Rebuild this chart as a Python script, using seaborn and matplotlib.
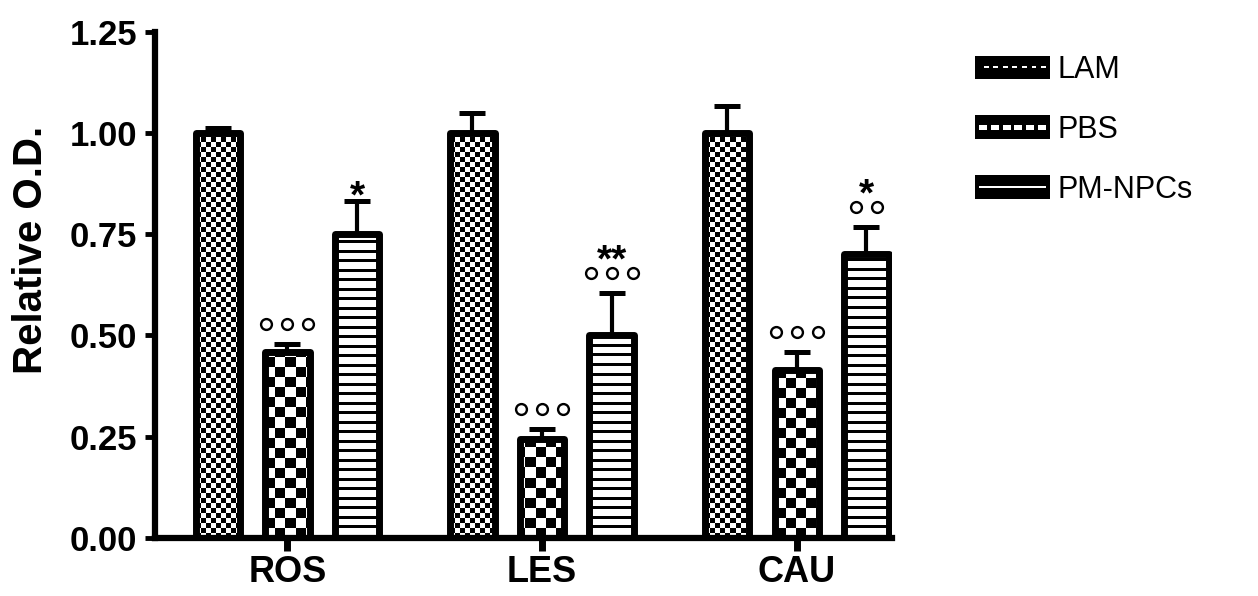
import numpy as np
import pandas as pd
import matplotlib
matplotlib.use("Agg")
import matplotlib.pyplot as plt
import seaborn as sns
from matplotlib.image import BboxImage
from matplotlib.transforms import Bbox, TransformedBbox, offset_copy
from matplotlib.legend_handler import HandlerBase
from matplotlib.patches import Rectangle

# ---- data -----------------------------------------------------------------
regions = ["ROS", "LES", "CAU"]
groups = ["LAM", "PBS", "PM-NPCs"]

lam_mean = [1.00, 1.00, 1.00]
lam_sem = [0.012, 0.048, 0.066]
pbs_mean = [0.46, 0.245, 0.414]
pbs_sem = [0.020, 0.025, 0.044]
pm_mean = [0.75, 0.50, 0.70]
pm_sem = [0.082, 0.105, 0.068]

# number of "o" marks (vs LAM) and star marks (vs PBS) above each bar
circle_marks = {"LAM": [0, 0, 0], "PBS": [3, 3, 3], "PM-NPCs": [0, 3, 2]}
star_marks = {"LAM": ["", "", ""], "PBS": ["", "", ""], "PM-NPCs": ["*", "**", "*"]}

y_ticks = [0.00, 0.25, 0.50, 0.75, 1.00, 1.25]
y_label = "Relative O.D."

means = {"LAM": lam_mean, "PBS": pbs_mean, "PM-NPCs": pm_mean}
sems = {"LAM": lam_sem, "PBS": pbs_sem, "PM-NPCs": pm_sem}

df = pd.DataFrame(
    [(r, g, means[g][i], sems[g][i]) for g in groups for i, r in enumerate(regions)],
    columns=["region", "group", "value", "sem"],
)

# ---- style ----------------------------------------------------------------
sns.set_theme(style="ticks")
plt.rcParams["font.family"] = ["Liberation Sans", "DejaVu Sans"]
plt.rcParams["text.color"] = "black"

W_IN, H_IN, DPI = 12.58, 5.96, 100
fig = plt.figure(figsize=(W_IN, H_IN), dpi=DPI)
ax = fig.add_axes([0.1236, 0.0973, 0.5855, 0.8498])

sns.barplot(
    data=df, x="region", y="value", hue="group",
    order=regions, hue_order=groups,
    palette=["white"] * 3, saturation=1,
    width=0.82, gap=0.36, errorbar=None, legend=False,
    edgecolor="black", linewidth=5, ax=ax,
)

XLIM = (-0.518, 2.374)
YLIM = (0, 1.25)

# ---- fill patterns (in screen pixels) -------------------------------------
ax_w_px = int(round(0.5855 * W_IN * DPI))
ax_h_px = int(round(0.8498 * H_IN * DPI))
yy, xx = np.mgrid[0:ax_h_px, 0:ax_w_px]


def checker(cell):
    return (((xx // cell) + (yy // cell)) % 2).astype(float)


def stripes(period, thick):
    return ((yy % period) >= thick).astype(float)


patterns = {
    "LAM": checker(5),
    "PBS": checker(10),
    "PM-NPCs": stripes(9.5, 3),
}

line_tf = lambda dx, dy: offset_copy(ax.transData, fig=fig, x=dx, y=dy, units="dots")

for g, container in zip(groups, ax.containers):
    for i, bar in enumerate(container.patches):
        bar.set_facecolor("none")
        bar.set_joinstyle("round")
        bar.set_zorder(3)
        im = ax.imshow(
            patterns[g], cmap="gray", vmin=0, vmax=1, origin="lower",
            extent=(*XLIM, *YLIM), aspect="auto", interpolation="nearest", zorder=2,
        )
        im.set_clip_path(bar)

        cx = bar.get_x() + bar.get_width() / 2
        top = bar.get_height()
        err = sems[g][i]
        ax.errorbar(
            [cx], [top], yerr=[[0], [err]], fmt="none", ecolor="black",
            elinewidth=3, capsize=9.4, capthick=3.6, zorder=2.5,
        )
        cap = top + err

        n_c = circle_marks[g][i]
        y_off = 0
        if n_c:
            y_off = 20
            for k in range(n_c):
                dx = (k - (n_c - 1) / 2) * 21
                ax.plot([cx], [cap], marker="o", ms=7.8, mfc="none", mec="black",
                        mew=1.7, transform=line_tf(dx, y_off), clip_on=False)
        s = star_marks[g][i]
        if s:
            centre = y_off + (24 if n_c else 16)
            ax.annotate(s, (cx, cap), xytext=(0, centre - 0.56 * 40),
                        textcoords="offset pixels", ha="center", va="baseline",
                        fontsize=28, fontweight="bold", color="black")

ax.set_xlim(*XLIM)
ax.set_ylim(*YLIM)

# ---- axes -----------------------------------------------------------------
sns.despine(ax=ax)
for side in ("left", "bottom"):
    ax.spines[side].set_linewidth(4.5)
    ax.spines[side].set_color("black")
    ax.spines[side].set_capstyle("projecting")

ax.set_yticks(y_ticks)
ax.set_yticklabels([f"{t:.2f}" for t in y_ticks])
ax.tick_params(axis="y", length=7, width=3.5, pad=6, labelsize=25, colors="black")
ax.tick_params(axis="x", length=9, width=5, pad=3, labelsize=26, colors="black")
for lab in ax.get_xticklabels() + ax.get_yticklabels():
    lab.set_fontweight("bold")

ax.set_xlabel("")
ax.set_ylabel(y_label, fontsize=29, fontweight="bold", color="black")
ax.yaxis.set_label_coords(-0.143, 0.569)


# ---- legend ---------------------------------------------------------------
class PatternHandler(HandlerBase):
    def __init__(self, data, inset):
        super().__init__()
        self.data = data
        self.inset = inset

    def create_artists(self, legend, orig_handle, xdescent, ydescent,
                       width, height, fontsize, trans):
        x0, y0 = -xdescent, -ydescent
        box = Rectangle((x0, y0), width, height, facecolor="black",
                        edgecolor="black", lw=0, transform=trans)
        ix, iy = self.inset
        inner = TransformedBbox(
            Bbox.from_bounds(x0 + ix, y0 + iy, width - 2 * ix, height - 2 * iy), trans)
        img = BboxImage(inner, cmap="gray", norm=plt.Normalize(0, 1),
                        interpolation="nearest", origin="lower")
        img.set_data(self.data)
        return [box, img]


leg_fine = (np.indices((1, 14)).sum(axis=0) % 2).astype(float)
leg_coarse = np.tile([1.0, 1.0, 0.0], 6)[None, :-1]
leg_plain = np.ones((1, 2))

handles = [Rectangle((0, 0), 1, 1) for _ in groups]
ax.legend(
    handles, groups,
    handler_map={
        handles[0]: PatternHandler(leg_fine, (3, 8)),
        handles[1]: PatternHandler(leg_coarse, (3, 7)),
        handles[2]: PatternHandler(leg_plain, (3, 8)),
    },
    loc="upper left", bbox_to_anchor=(975 / (W_IN * DPI), 1 - 55 / (H_IN * DPI)),
    bbox_transform=fig.transFigure, frameon=False, fontsize=22, labelcolor="black",
    borderpad=0, borderaxespad=0, handlelength=2.45, handleheight=0.82,
    handletextpad=0.25, labelspacing=0.98,
)

fig.savefig("out.png", dpi=DPI)
